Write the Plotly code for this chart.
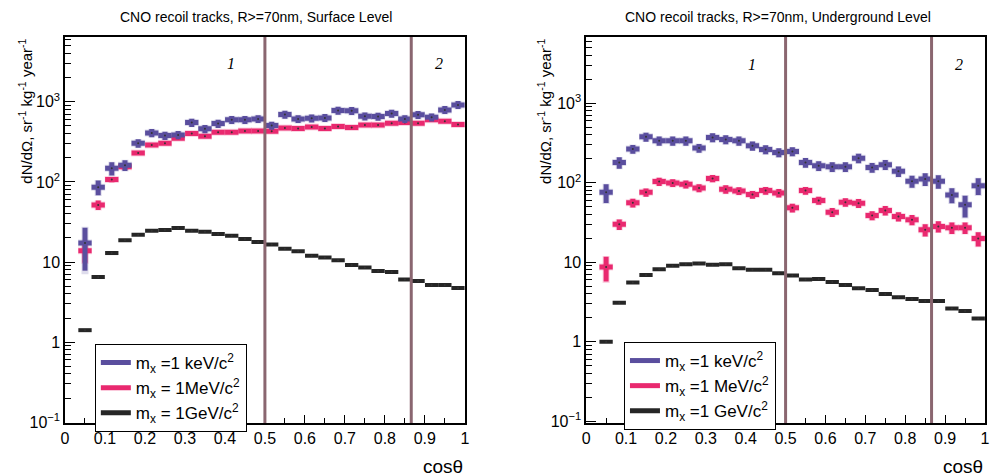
import plotly.graph_objects as go

# ---------------- data ----------------
cos_theta = [0.050, 0.083, 0.117, 0.150, 0.183, 0.217, 0.250, 0.283, 0.317, 0.350,
             0.383, 0.417, 0.450, 0.483, 0.517, 0.550, 0.583, 0.617, 0.650, 0.683,
             0.717, 0.750, 0.783, 0.817, 0.850, 0.883, 0.917, 0.950, 0.983]
bin_half_width = 1 / 60

surf_kev = [17.3, 86, 148, 162, 304, 410, 379, 387, 551, 460, 535, 596, 596, 613, 506,
            694, 613, 625, 631, 779, 772, 662, 656, 714, 613, 688, 643, 794, 917]
surf_kev_err = [9.5, 18, 28, 25, 37, 48, 44, 45, 64, 53, 62, 68, 68, 70, 58,
                80, 70, 72, 72, 90, 88, 76, 75, 82, 70, 79, 74, 91, 105]
surf_mev = [13.8, 51.6, 107, 155, 230, 290, 304, 351, 402, 372, 418, 418, 434, 434, 430,
            473, 464, 487, 464, 491, 477, 516, 516, 541, 551, 541, 596, 573, 520]
surf_mev_err = [4, 7, 8, 12, 12, 14, 14, 15, 16, 15, 16, 16, 17, 17, 17,
                18, 18, 19, 18, 19, 19, 20, 20, 21, 21, 21, 23, 22, 20]
surf_gev = [1.41, 6.5, 12.95, 18.7, 21.9, 24.6, 25.1, 26.6, 24.6, 23.9, 22.4, 21.3, 19.4, 17.8, 16.5,
            14.7, 13.6, 12.0, 11.4, 10.5, 9.17, 8.57, 7.72, 7.5, 6.07, 5.79, 5.16, 5.16, 4.73]

ug_kev = [75.6, 179, 264, 376, 335, 335, 335, 272, 369, 348, 335, 290, 261, 239, 246,
          179, 163, 158, 158, 203, 155, 168, 139, 104, 111, 104, 70, 52.6, 91.7]
ug_kev_err = [20, 29, 34, 49, 44, 44, 44, 35, 48, 45, 44, 38, 34, 31, 32,
              25, 23, 22, 22, 28, 22, 24, 21, 18, 20, 20, 15, 16, 22]
ug_mev = [8.74, 30, 55.7, 75.6, 103, 99, 95.3, 85.8, 113, 82.5, 78.7, 70.8, 79.4, 74.3, 48.2,
          79.4, 59.6, 42.6, 56.8, 55.1, 38.7, 44.7, 37.6, 34.2, 25.6, 28.2, 27.1, 27.1, 19.8]
ug_mev_err = [3, 4.5, 7, 9, 12, 11, 11, 10, 12, 10, 9, 8, 9, 9, 6,
              9, 7, 5.5, 7, 7, 5, 6, 5, 5, 4.5, 4.5, 4.5, 4.5, 4]
ug_gev = [1.0, 3.1, 5.55, 6.93, 8.16, 9.0, 9.44, 9.63, 9.27, 9.44, 8.41, 8.02, 8.02, 7.27, 6.8,
          6.05, 6.17, 5.66, 5.19, 4.7, 4.49, 3.99, 3.62, 3.45, 3.26, 3.26, 2.63, 2.44, 1.97]

angle_lines = [0.5, 0.866]
x_tick_vals = [0, 0.1, 0.2, 0.3, 0.4, 0.5, 0.6, 0.7, 0.8, 0.9, 1]
x_tick_text = ["0", "0.1", "0.2", "0.3", "0.4", "0.5", "0.6", "0.7", "0.8", "0.9", "1"]
y_tick_vals = [0.1, 1, 10, 100, 1000]
y_tick_text = ["10<sup>\u22121</sup>", "1", "10", "10<sup>2</sup>", "10<sup>3</sup>"]

surf_names = ["m<sub>x</sub> =1 keV/c<sup>2</sup>", "m<sub>x</sub> = 1MeV/c<sup>2</sup>",
              "m<sub>x</sub> = 1GeV/c<sup>2</sup>"]
ug_names = ["m<sub>x</sub> =1 keV/c<sup>2</sup>", "m<sub>x</sub> =1 MeV/c<sup>2</sup>",
            "m<sub>x</sub> =1 GeV/c<sup>2</sup>"]

# ---------------- style ----------------
C_KEV = "#5a4e9e"
C_MEV = "#e9296f"
C_GEV = "#262626"
C_VLINE = "#8a6670"
FONT = "Liberation Sans, Arial, sans-serif"

W, H = 991, 476
ML, MR, MT, MB = 65, 1, 37, 53
PW, PH = W - ML - MR, H - MT - MB


def px(x):
    return (x - ML) / PW


def py(y):
    return (H - MB - y) / PH


fig = go.Figure()


def add_series(xa, ya, vals, errs, color, thick):
    ey = dict(type="data", array=errs, visible=True, color=color, thickness=thick, width=0) \
        if errs is not None else dict(visible=False)
    fig.add_trace(go.Scatter(
        x=cos_theta, y=vals, mode="markers", xaxis=xa, yaxis=ya,
        marker=dict(size=2, color="#333333"),
        error_x=dict(type="constant", value=bin_half_width, color=color, thickness=thick, width=0),
        error_y=ey, showlegend=False, hoverinfo="x+y"))


def add_halo(xa, ya, vals, errs, color):
    fig.add_trace(go.Scatter(
        x=cos_theta, y=vals, mode="markers", xaxis=xa, yaxis=ya,
        marker=dict(size=1, color="rgba(0,0,0,0)"),
        error_x=dict(type="constant", value=bin_half_width * 1.05, color=color, thickness=7, width=0),
        error_y=dict(type="data", array=[e * 1.08 for e in errs], color=color, thickness=7, width=0),
        showlegend=False, hoverinfo="skip"))


# surface panel
add_halo("x", "y", surf_kev, surf_kev_err, "rgba(90,78,158,0.2)")
add_halo("x", "y", surf_mev, surf_mev_err, "rgba(233,41,111,0.2)")
add_series("x", "y", surf_gev, None, C_GEV, 4)
add_series("x", "y", surf_mev, surf_mev_err, C_MEV, 5)
add_series("x", "y", surf_kev, surf_kev_err, C_KEV, 5)
# underground panel
add_halo("x2", "y2", ug_kev, ug_kev_err, "rgba(90,78,158,0.2)")
add_halo("x2", "y2", ug_mev, ug_mev_err, "rgba(233,41,111,0.2)")
add_series("x2", "y2", ug_gev, None, C_GEV, 4)
add_series("x2", "y2", ug_mev, ug_mev_err, C_MEV, 5)
add_series("x2", "y2", ug_kev, ug_kev_err, C_KEV, 5)

# legend entries
for name, col in zip(surf_names, [C_KEV, C_MEV, C_GEV]):
    fig.add_trace(go.Scatter(x=[None], y=[None], mode="lines", name=name,
                             line=dict(color=col, width=5), legend="legend",
                             xaxis="x", yaxis="y"))
for name, col in zip(ug_names, [C_KEV, C_MEV, C_GEV]):
    fig.add_trace(go.Scatter(x=[None], y=[None], mode="lines", name=name,
                             line=dict(color=col, width=5), legend="legend2",
                             xaxis="x2", yaxis="y2"))

# minor ticks
y_minor = []
for dec in [0.1, 1, 10, 100, 1000]:
    for m in range(2, 10):
        y_minor.append(m * dec)
x_minor = [0.05, 0.15, 0.25, 0.35, 0.45, 0.55, 0.65, 0.75, 0.85, 0.95]

xax = dict(range=[0, 1], tickmode="array", tickvals=x_tick_vals, ticktext=x_tick_text,
           ticks="inside", ticklen=8, tickwidth=1, tickcolor="black",
           minor=dict(tickmode="array", tickvals=x_minor, ticks="inside", ticklen=5, tickcolor="black"),
           showline=True, linecolor="black", linewidth=1.5, mirror=True,
           showgrid=False, zeroline=False,
           tickfont=dict(family=FONT, size=16, color="black"))
yax = dict(type="log", tickmode="array", tickvals=y_tick_vals, ticktext=y_tick_text,
           ticks="inside", ticklen=10, tickwidth=1, tickcolor="black",
           minor=dict(tickmode="array", tickvals=y_minor, ticks="inside", ticklen=6, tickcolor="black"),
           showline=True, linecolor="black", linewidth=1.5, mirror=True,
           showgrid=False, zeroline=False,
           tickfont=dict(family=FONT, size=16, color="black"))

L0, L1 = 0.0, px(467)
R0, R1 = px(589), 1.0

fig.update_layout(
    width=W, height=H,
    margin=dict(l=ML, r=MR, t=MT, b=MB),
    paper_bgcolor="white", plot_bgcolor="white",
    xaxis=dict(xax, domain=[L0, L1], anchor="y"),
    yaxis=dict(yax, domain=[0, 1], anchor="x", range=[-1.01, 3.81]),
    xaxis2=dict(xax, domain=[R0, R1], anchor="y2"),
    yaxis2=dict(yax, domain=[0, 1], anchor="x2", range=[-1.02, 3.83]),
    legend=dict(x=px(95), y=py(344), xanchor="left", yanchor="top",
                bordercolor="black", borderwidth=1, bgcolor="white",
                font=dict(family=FONT, size=17, color="black"), itemwidth=30,
                tracegroupgap=0),
    legend2=dict(x=px(627), y=py(342), xanchor="left", yanchor="top",
                 bordercolor="black", borderwidth=1, bgcolor="white",
                 font=dict(family=FONT, size=17, color="black"), itemwidth=30,
                 tracegroupgap=0),
    showlegend=True,
)

# vertical lines
shapes = []
for xr, yr in [("x", "y domain"), ("x2", "y2 domain")]:
    for xv in angle_lines:
        shapes.append(dict(type="line", xref=xr, yref=yr, x0=xv, x1=xv, y0=0, y1=1,
                           line=dict(color=C_VLINE, width=3), layer="above"))
fig.update_layout(shapes=shapes)

ann = []
# titles
ann.append(dict(text="CNO recoil tracks, R>=70nm, Surface Level", xref="paper", yref="paper",
                x=px(257), y=py(17), showarrow=False, xanchor="center", yanchor="middle",
                font=dict(family=FONT, size=14, color="black")))
ann.append(dict(text="CNO recoil tracks, R>=70nm, Underground Level", xref="paper", yref="paper",
                x=px(782), y=py(17), showarrow=False, xanchor="center", yanchor="middle",
                font=dict(family=FONT, size=14, color="black")))
# y titles
ytitle = "dN/d\u03a9, sr<sup>-1</sup> kg<sup>-1</sup> year<sup>-1</sup>"
for xc in [25, 547]:
    ann.append(dict(text=ytitle, xref="paper", yref="paper", x=px(xc), y=py(37),
                    showarrow=False, textangle=-90, xanchor="center", yanchor="top",
                    font=dict(family=FONT, size=15, color="black")))
# x titles
for xr in [467, 990]:
    ann.append(dict(text="cos\u03b8", xref="paper", yref="paper", x=px(xr), y=py(466),
                    showarrow=False, xanchor="right", yanchor="middle",
                    font=dict(family=FONT, size=19, color="black")))
# region labels
for xr, yr, ylog in [("x", "y", 3.475), ("x2", "y2", 3.49)]:
    ann.append(dict(text="<i>1</i>", xref=xr, yref=yr, x=0.415, y=ylog, showarrow=False,
                    font=dict(family="Liberation Serif, serif", size=16, color="black")))
    ann.append(dict(text="<i>2</i>", xref=xr, yref=yr, x=0.935, y=ylog, showarrow=False,
                    font=dict(family="Liberation Serif, serif", size=16, color="black")))
fig.update_layout(annotations=ann)

fig.write_html("out.html", config={"displayModeBar": False},
               post_script="document.body.style.margin='0';document.body.style.padding='0';"
                           "document.documentElement.style.overflow='hidden';")
